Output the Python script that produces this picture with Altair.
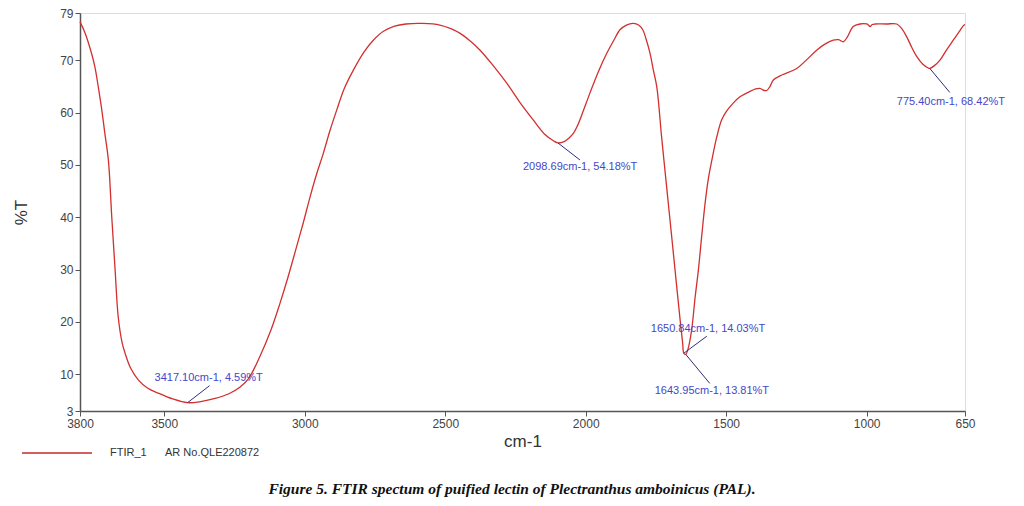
import altair as alt
import pandas as pd

# FTIR spectrum
wavenumber = [3800, 3782, 3760, 3747, 3735, 3723, 3712, 3699, 3687, 3675, 3664, 3650, 3640, 3620, 3592,
              3560, 3521, 3470, 3417.1, 3370, 3319, 3270, 3230, 3200, 3159, 3120, 3088, 3060, 3029,
              3005, 2981, 2958, 2934, 2910, 2886, 2860, 2827, 2790, 2756, 2720, 2680, 2640, 2580,
              2519, 2480, 2447, 2410, 2376, 2330, 2281, 2235, 2187, 2145, 2115, 2098.69, 2075, 2060,
              2044, 2030, 2015, 1985, 1955, 1925, 1900, 1878, 1855, 1830, 1812, 1797, 1785, 1771,
              1760, 1747, 1730, 1712, 1694, 1676, 1664, 1655, 1650.84, 1643.95, 1635, 1623, 1610,
              1599, 1587, 1575, 1563, 1551, 1535, 1516, 1498, 1475, 1451, 1420, 1395, 1380, 1365,
              1356, 1345, 1332, 1300, 1249, 1215, 1178, 1150, 1119, 1100, 1083, 1068, 1048, 1024,
              1000, 994, 988, 980, 970, 930, 893, 875, 858, 840, 822, 800, 781, 775.4, 760, 739, 715,
              692, 670, 657, 650]
transmittance = [77.3, 75.2, 71.5, 68.7, 64.9, 60.7, 56.2, 50.9, 40.1, 29.9, 21.0, 16.0, 14.1, 11.2, 8.9,
                 7.4, 6.4, 5.3, 4.59, 4.8, 5.4, 6.3, 7.6, 9.2, 13.5, 18.5, 23.6, 28.5, 34.4,
                 39.0, 43.9, 48.2, 52.2, 56.6, 60.5, 64.5, 68.1, 71.5, 73.8, 75.5, 76.5, 76.9, 77.0,
                 76.7, 76.0, 75.1, 73.6, 71.9, 69.0, 65.6, 62.0, 58.6, 55.8, 54.6, 54.18, 54.5, 55.1,
                 56.0, 57.4, 59.4, 63.7, 67.8, 71.3, 73.8, 75.8, 76.7, 77.0, 76.7, 75.8, 74.0, 71.3,
                 68.3, 64.9, 55.4, 45.8, 36.3, 26.7, 20.4, 16.0, 14.03, 13.81, 15.0, 18.5, 25.0,
                 29.9, 36.5, 42.7, 47.5, 50.9, 55.0, 58.6, 60.3, 61.8, 63.0, 63.9, 64.5, 64.6, 64.2,
                 64.2, 64.9, 66.2, 67.2, 68.4, 70.0, 71.9, 73.0, 73.8, 73.9, 73.5, 74.5, 76.4, 76.9,
                 76.9, 76.7, 76.4, 76.8, 76.9, 76.9, 76.9, 76.0, 74.5, 72.5, 70.7, 69.2, 68.5, 68.42,
                 68.9, 70.0, 72.0, 73.8, 75.5, 76.5, 76.8]

# Peak annotations
peak_wn = [3417.10, 2098.69, 1650.84, 1643.95, 775.40]
peak_t = [4.59, 54.18, 14.03, 13.81, 68.42]
peak_labels = ["3417.10cm-1, 4.59%T", "2098.69cm-1, 54.18%T", "1650.84cm-1, 14.03%T",
               "1643.95cm-1, 13.81%T", "775.40cm-1, 68.42%T"]
# (text dx, text dy, leader end dx, leader end dy) in pixels
label_offsets = [(-33, -25, 22, -17), (-35, 24, 22, 17), (-33, -24, 23, -17),
                 (-31, 37, 24, 29), (-33, 34, 20, 24)]

x_ticks = [3800, 3500, 3000, 2500, 2000, 1500, 1000, 650]
y_ticks = [3, 10, 20, 30, 40, 50, 60, 70, 79]

legend_series = "FTIR_1"
legend_note = "AR No.QLE220872"
caption = "Figure 5. FTIR spectum of puified lectin of Plectranthus amboinicus (PAL)."

df = pd.DataFrame({"wn": wavenumber, "t": transmittance})
df["idx"] = range(len(df))

FONT = "Liberation Sans"

x_scale = alt.Scale(domain=[3800, 650], nice=False, zero=False)
y_scale = alt.Scale(domain=[3, 79], nice=False, zero=False)

x_axis = alt.Axis(values=x_ticks, title="cm-1", grid=False, labelFont=FONT, labelFontSize=12,
                  labelColor="#444", titleFont=FONT, titleFontSize=17, titleFontWeight="normal",
                  titleColor="#333", titlePadding=4, domainColor="#555", domainWidth=1.5,
                  tickColor="#555", tickSize=5, labelPadding=2, format="d", labelOverlap=False,
                  labelFlush=False)
y_axis = alt.Axis(values=y_ticks, title="%T", grid=False, labelFont=FONT, labelFontSize=12,
                  labelColor="#444", titleFont=FONT, titleFontSize=17, titleFontWeight="normal",
                  titleColor="#333", titlePadding=29, domainColor="#555", domainWidth=1.5,
                  tickColor="#555", tickSize=5, labelPadding=2, format="d", labelOverlap=False,
                  labelFlush=False)

line = alt.Chart(df).mark_line(color="#d22f2f", strokeWidth=1.3, interpolate="catmull-rom").encode(
    x=alt.X("wn:Q", scale=x_scale, axis=x_axis),
    y=alt.Y("t:Q", scale=y_scale, axis=y_axis),
    order=alt.Order("idx:Q"),
)

layers = [line]
for wn, t, lab, (tdx, tdy, ldx, ldy) in zip(peak_wn, peak_t, peak_labels, label_offsets):
    pdf = pd.DataFrame({"wn": [wn], "t": [t], "label": [lab]})
    base = alt.Chart(pdf)
    leader = base.mark_rule(color="#2e2e7a", strokeWidth=1, x2Offset=ldx, y2Offset=ldy).encode(
        x=alt.X("wn:Q", scale=x_scale), x2="wn:Q",
        y=alt.Y("t:Q", scale=y_scale), y2="t:Q",
    )
    text = base.mark_text(align="left", baseline="middle", dx=tdx, dy=tdy, font=FONT,
                          fontSize=11, color="#4646c8").encode(
        x=alt.X("wn:Q", scale=x_scale), y=alt.Y("t:Q", scale=y_scale), text="label:N",
    )
    layers += [leader, text]

# legend drawn below the axis
leg = pd.DataFrame({"a": [legend_series], "b": [legend_note], "c": [caption]})
legend_line = alt.Chart(leg).mark_rule(color="#c62a2a", strokeWidth=1.5).encode(
    x=alt.value(-58), x2=alt.value(12), y=alt.value(440))
legend_t1 = alt.Chart(leg).mark_text(align="left", baseline="middle", font=FONT, fontSize=11,
                                     color="#333").encode(x=alt.value(30), y=alt.value(440), text="a:N")
legend_t2 = alt.Chart(leg).mark_text(align="left", baseline="middle", font=FONT, fontSize=11,
                                     color="#333").encode(x=alt.value(85), y=alt.value(440), text="b:N")
cap = alt.Chart(leg).mark_text(align="center", baseline="middle", font="Liberation Serif",
                               fontSize=15.5, fontStyle="italic", fontWeight="bold",
                               color="#111").encode(x=alt.value(432), y=alt.value(476), text="c:N")
layers += [legend_line, legend_t1, legend_t2, cap]

chart = alt.layer(*layers).properties(
    width=885, height=398,
    autosize=alt.AutoSizeParams(type="none"),
    padding={"left": 72, "top": 5, "right": 51, "bottom": 95},
).configure_view(stroke=None).configure(background="white")

chart.save("out.html", embed_options={"renderer": "svg", "actions": False})
